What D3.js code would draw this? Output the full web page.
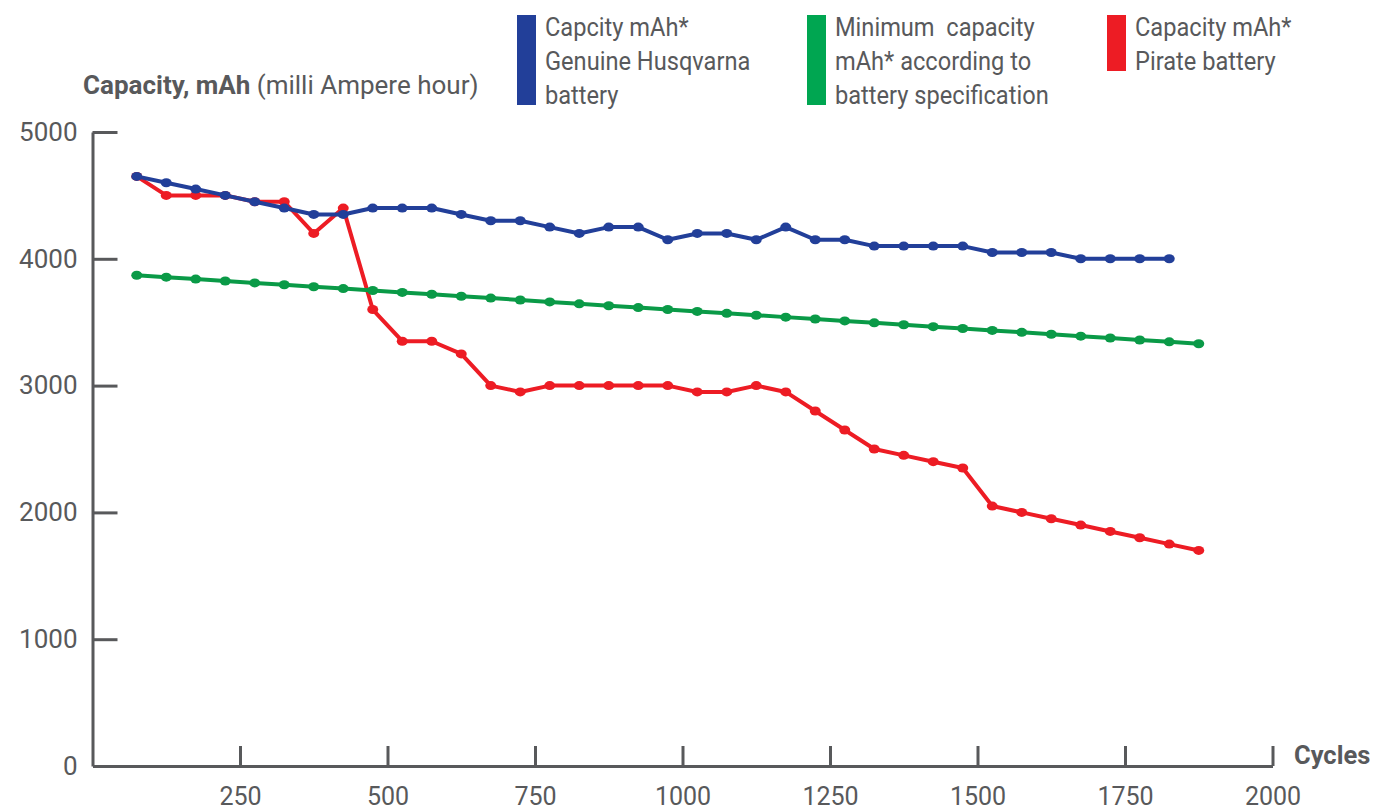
<!DOCTYPE html>
<html>
<head>
<meta charset="utf-8">
<script src="https://cdn.jsdelivr.net/npm/d3@7"></script>
<style>
  html, body { margin: 0; padding: 0; background: #fff; }
  svg { display: block; font-family: Roboto, "Noto Sans", sans-serif; }
</style>
</head>
<body>
<svg id="chart" width="1380" height="812"></svg>
<script>
// ---- data ----
const cyclesGenuine = [75,125,175,225,275,325,375,425,475,525,575,625,675,725,775,825,875,925,975,1025,1075,1125,1175,1225,1275,1325,1375,1425,1475,1525,1575,1625,1675,1725,1775,1825];
const genuine = [4650,4600,4550,4500,4450,4400,4350,4350,4400,4400,4400,4350,4300,4300,4250,4200,4250,4250,4150,4200,4200,4150,4250,4150,4150,4100,4100,4100,4100,4050,4050,4050,4000,4000,4000,4000];

const cyclesFull = [75,125,175,225,275,325,375,425,475,525,575,625,675,725,775,825,875,925,975,1025,1075,1125,1175,1225,1275,1325,1375,1425,1475,1525,1575,1625,1675,1725,1775,1825,1875];
const minimumSpec = [3870,3855,3840,3825,3810,3795,3780,3765,3750,3735,3720,3705,3690,3675,3660,3645,3630,3615,3600,3585,3570,3555,3540,3525,3510,3495,3480,3465,3450,3435,3420,3405,3390,3375,3360,3345,3330];
const pirate = [4650,4500,4500,4500,4450,4450,4200,4400,3600,3350,3350,3250,3000,2950,3000,3000,3000,3000,3000,2950,2950,3000,2950,2800,2650,2500,2450,2400,2350,2050,2000,1950,1900,1850,1800,1750,1700];

const yTicks = [0,1000,2000,3000,4000,5000];
const xTicks = [250,500,750,1000,1250,1500,1750,2000];

const legendItems = [
  { key: "genuine", lines: ["Capcity mAh*", "Genuine Husqvarna", "battery"] },
  { key: "minimum", lines: ["Minimum  capacity", "mAh* according to", "battery specification"] },
  { key: "pirate",  lines: ["Capacity mAh*", "Pirate battery"] }
];

const colors = { genuine: "#223f99", minimum: "#0a9a47", pirate: "#ed1c24" };
const legendColors = { genuine: "#223f99", minimum: "#00a651", pirate: "#ed1c24" };
const textColor = "#58595b";
const axisColor = "#58595b";

// ---- layout ----
const svg = d3.select("#chart");
const x = d3.scaleLinear().domain([0, 2000]).range([92.5, 1272.5]);
const y = d3.scaleLinear().domain([0, 5000]).range([766, 132]);

// axes
const yAxis = d3.axisLeft(y).tickValues(yTicks).tickSizeInner(-25).tickSizeOuter(0).tickPadding(15).tickFormat(d3.format("d"));
const gy = svg.append("g").attr("transform", `translate(${x(0)},0)`).call(yAxis);
gy.selectAll("path, line").attr("stroke", axisColor).attr("stroke-width", 3);
gy.selectAll("text").attr("fill", textColor).attr("font-size", 26).attr("font-family", "Roboto");
gy.selectAll(".tick").filter(d => d === 0).select("line").remove();

const xAxis = d3.axisBottom(x).tickValues(xTicks).tickSizeInner(-20).tickSizeOuter(0).tickPadding(21).tickFormat(d3.format("d"));
const gx = svg.append("g").attr("transform", `translate(0,${y(0)})`).call(xAxis);
gx.selectAll("path, line").attr("stroke", axisColor).attr("stroke-width", 3);
gx.selectAll("text").attr("fill", textColor).attr("font-size", 25).attr("font-family", "Roboto");

// axis titles
const yt = svg.append("text")
  .attr("transform", "translate(83,94)")
  .attr("fill", textColor).attr("font-size", 26);
yt.append("tspan").attr("font-weight", "bold").text("Capacity, mAh");
yt.append("tspan").text(" (milli Ampere hour)");

svg.append("text")
  .attr("x", 1294).attr("y", 764)
  .attr("fill", textColor).attr("font-size", 25.5).attr("font-weight", "bold")
  .text("Cycles");

// series
const seriesList = [
  { key: "pirate", xs: cyclesFull, ys: pirate },
  { key: "minimum", xs: cyclesFull, ys: minimumSpec },
  { key: "genuine", xs: cyclesGenuine, ys: genuine }
];
const line = d3.line().x(d => x(d[0])).y(d => y(d[1]));
seriesList.forEach(s => {
  const pts = s.xs.map((c, i) => [c, s.ys[i]]);
  const g = svg.append("g");
  g.append("path").datum(pts)
    .attr("d", line).attr("fill", "none")
    .attr("stroke", colors[s.key]).attr("stroke-width", 4)
    .attr("stroke-linejoin", "round");
  g.selectAll("ellipse").data(pts).join("ellipse")
    .attr("cx", d => x(d[0])).attr("cy", d => y(d[1]))
    .attr("rx", 5.5).attr("ry", 4.5)
    .attr("fill", colors[s.key]);
});

// legend
const legendX = [517, 807, 1107];
legendItems.forEach((item, i) => {
  const g = svg.append("g").attr("transform", `translate(${legendX[i]},0)`);
  g.append("rect").attr("x", 0).attr("y", 15).attr("width", 19)
    .attr("height", item.lines.length === 3 ? 90 : 56)
    .attr("fill", legendColors[item.key]);
  item.lines.forEach((ln, j) => {
    g.append("text")
      .attr("transform", `translate(28,${36 + j * 34}) scale(0.945,1)`)
      .attr("fill", textColor).attr("font-size", 25)
      .attr("xml:space", "preserve")
      .style("white-space", "pre")
      .text(ln);
  });
});
</script>
</body>
</html>
